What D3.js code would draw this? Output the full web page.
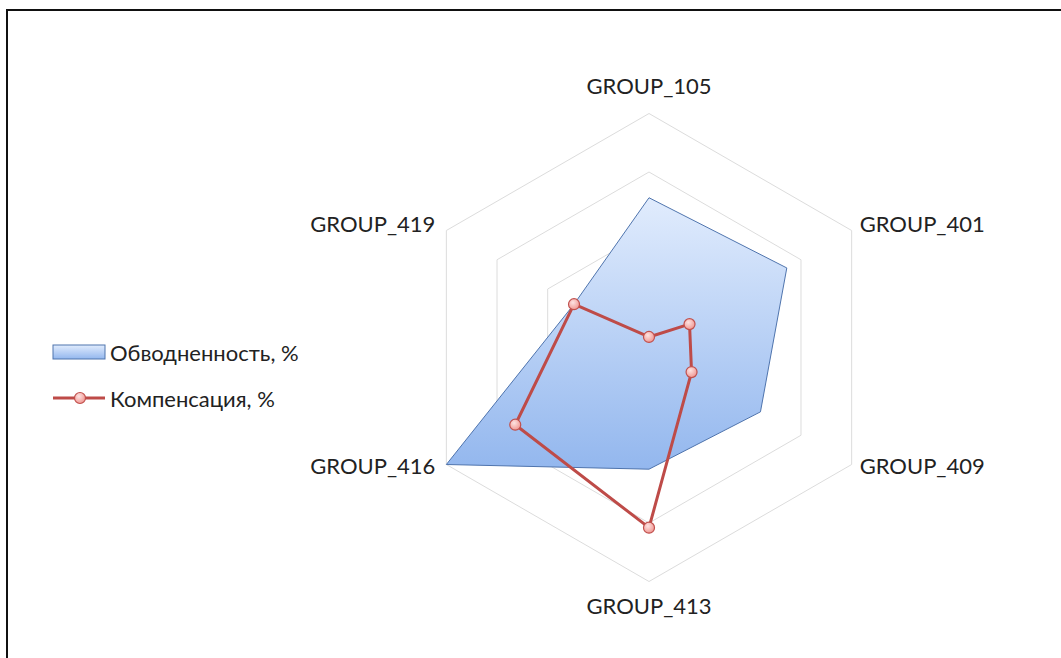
<!DOCTYPE html>
<html>
<head>
<meta charset="utf-8">
<script src="https://cdn.jsdelivr.net/npm/d3@7"></script>
<style>
  body { margin: 0; background: #fff; }
  svg { display: block; }
  text { font-family: Lato, "Liberation Sans", sans-serif; fill: #222; }
</style>
</head>
<body>
<div class="chart"></div>
<script>
var categories = ['GROUP_105', 'GROUP_401', 'GROUP_409', 'GROUP_413', 'GROUP_416', 'GROUP_419'];
var waterCut = [64, 68, 55, 52, 100, 37];      // Обводненность, %
var compensation = [4.5, 20, 21, 77, 66, 37];  // Компенсация, %
var ringLevels = [25, 50, 75, 100];
var seriesNames = ['Обводненность, %', 'Компенсация, %'];

var width = 1061, height = 658;
var cx = 649, cy = 347.5, R = 234;

var svg = d3.select('.chart').append('svg').attr('width', width).attr('height', height);

// frame (runs off the right/bottom edge like the screenshot)
svg.append('rect')
	.attr('x', 7).attr('y', 10).attr('width', 1100).attr('height', 700)
	.style('fill', 'none').style('stroke', '#111').style('stroke-width', 2);

var defs = svg.append('defs');
var grad = defs.append('linearGradient').attr('id', 'blueFill')
	.attr('x1', 0).attr('y1', 0).attr('x2', 0).attr('y2', 1);
grad.append('stop').attr('offset', '0%').attr('stop-color', '#e1ecfd');
grad.append('stop').attr('offset', '100%').attr('stop-color', '#93b7ee');

var mgrad = defs.append('radialGradient').attr('id', 'markerFill')
	.attr('cx', '40%').attr('cy', '35%').attr('r', '65%');
mgrad.append('stop').attr('offset', '0%').attr('stop-color', '#fde3e2');
mgrad.append('stop').attr('offset', '100%').attr('stop-color', '#f19893');

var r = d3.scaleLinear().domain([0, 100]).range([0, R]);
var angle = d3.scaleLinear().domain([0, categories.length]).range([0, 2 * Math.PI]);

function pt(i, v) {
	var a = angle(i) - Math.PI / 2;
	return [cx + r(v) * Math.cos(a), cy + r(v) * Math.sin(a)];
}

var radarLine = d3.line().curve(d3.curveLinearClosed);

// rings
svg.selectAll('path.ring')
	.data(ringLevels)
	.enter()
	.append('path')
	.attr('class', 'ring')
	.attr('d', function(lv) { return radarLine(categories.map(function(c, i) { return pt(i, lv); })); })
	.style('fill', 'none').style('stroke', '#dcdcdc').style('stroke-width', 1);

// water cut area
svg.append('path')
	.attr('d', radarLine(waterCut.map(function(v, i) { return pt(i, v); })))
	.style('fill', 'url(#blueFill)').style('stroke', '#4f74ad').style('stroke-width', 1);

// compensation line
svg.append('path')
	.attr('d', radarLine(compensation.map(function(v, i) { return pt(i, v); })))
	.style('fill', 'none').style('stroke', '#be4b48').style('stroke-width', 3)
	.style('stroke-linejoin', 'round');

svg.selectAll('circle.pt')
	.data(compensation)
	.enter()
	.append('circle')
	.attr('class', 'pt')
	.attr('cx', function(v, i) { return pt(i, v)[0]; })
	.attr('cy', function(v, i) { return pt(i, v)[1]; })
	.attr('r', 5.5)
	.style('fill', 'url(#markerFill)').style('stroke', '#c0504d').style('stroke-width', 1.2);

// category labels
svg.selectAll('text.cat')
	.data(categories)
	.enter()
	.append('text')
	.attr('class', 'cat')
	.attr('font-size', 22)
	.attr('dominant-baseline', 'central')
	.each(function(c, i) {
		var p = pt(i, 100);
		var a = angle(i) - Math.PI / 2;
		var cs = Math.cos(a), sn = Math.sin(a);
		var t = d3.select(this);
		if (Math.abs(cs) < 0.01) {
			t.attr('text-anchor', 'middle').attr('x', p[0]).attr('y', p[1] + (sn < 0 ? -28 : 24));
		} else {
			t.attr('text-anchor', cs > 0 ? 'start' : 'end')
				.attr('x', p[0] + (cs > 0 ? 8 : -11))
				.attr('y', p[1] + (sn < 0 ? -7 : 1));
		}
	})
	.text(function(c) { return c; });

// legend
var lg = svg.append('g').attr('transform', 'translate(53,352)');
lg.append('rect').attr('x', 0).attr('y', -7).attr('width', 52).attr('height', 14)
	.style('fill', 'url(#blueFill)').style('stroke', '#4f74ad').style('stroke-width', 1);
lg.append('text').attr('x', 57).attr('y', 0).attr('font-size', 22).attr('dominant-baseline', 'central').text(seriesNames[0]);

lg.append('line').attr('x1', 0).attr('x2', 52).attr('y1', 46).attr('y2', 46)
	.style('stroke', '#be4b48').style('stroke-width', 3);
lg.append('circle').attr('cx', 27).attr('cy', 46).attr('r', 5.5)
	.style('fill', 'url(#markerFill)').style('stroke', '#c0504d').style('stroke-width', 1.2);
lg.append('text').attr('x', 57).attr('y', 46).attr('font-size', 22).attr('dominant-baseline', 'central').text(seriesNames[1]);
</script>
</body>
</html>
